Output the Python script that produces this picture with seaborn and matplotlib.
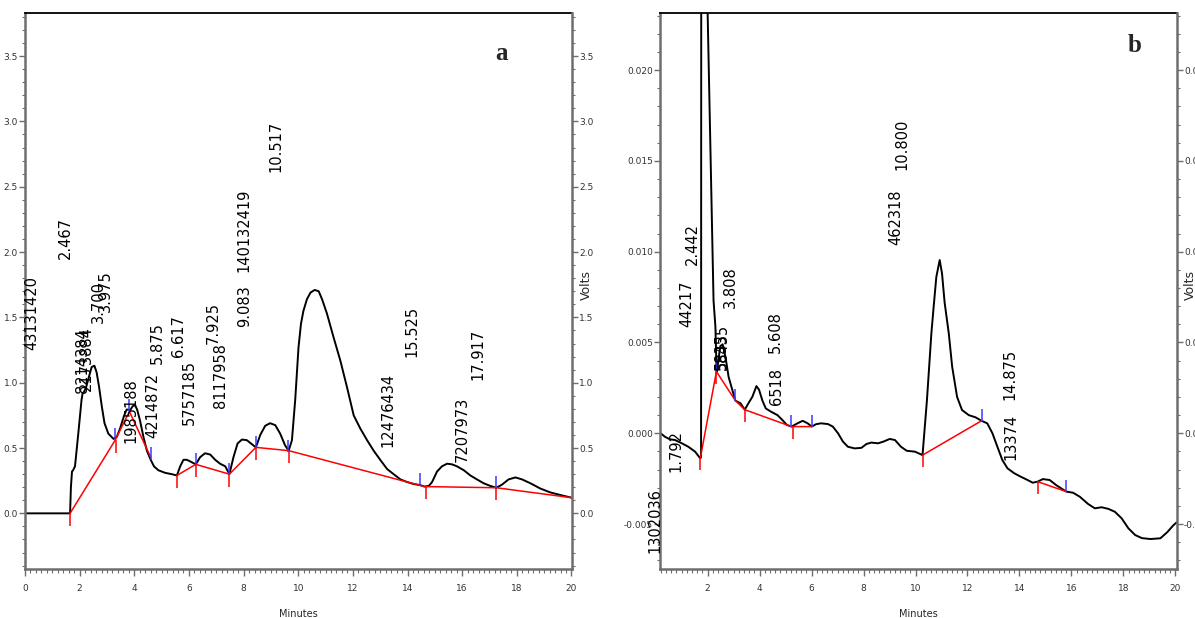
import matplotlib
matplotlib.use("Agg")
import matplotlib.pyplot as plt
import seaborn as sns
import pandas as pd
from matplotlib import font_manager
from matplotlib.ticker import MultipleLocator, FormatStrFormatter

# --- chromatogram a (Volts vs Minutes) ---
time_a = [0.0, 0.5, 1.0, 1.5, 1.65, 1.68, 1.72, 1.76, 1.83, 1.95,
          2.07, 2.11, 2.16, 2.23, 2.32, 2.44, 2.54, 2.62, 2.71, 2.81,
          2.91, 3.05, 3.24, 3.36, 3.48, 3.63, 3.72, 3.85, 3.94, 4.03,
          4.11, 4.21, 4.33, 4.46, 4.60, 4.72, 4.88, 5.13, 5.37, 5.56,
          5.68, 5.80, 5.92, 6.07, 6.25, 6.41, 6.59, 6.78, 6.96, 7.14,
          7.33, 7.48, 7.63, 7.78, 7.94, 8.12, 8.30, 8.45, 8.61, 8.79,
          8.97, 9.16, 9.34, 9.52, 9.65, 9.77, 9.89, 10.01, 10.10, 10.19,
          10.32, 10.45, 10.60, 10.75, 10.87, 11.05, 11.29, 11.54, 11.78, 12.03,
          12.27, 12.52, 12.76, 13.00, 13.25, 13.49, 13.74, 13.98, 14.22, 14.47,
          14.62, 14.78, 14.90, 15.08, 15.26, 15.45, 15.63, 15.81, 16.06, 16.30,
          16.54, 16.79, 17.03, 17.25, 17.46, 17.70, 17.95, 18.19, 18.50, 18.86,
          19.23, 19.60, 20.0]
volts_a = [0.0, 0.0, 0.0, 0.0, 0.0, 0.20, 0.32, 0.33, 0.36, 0.61,
           0.87, 0.92, 0.93, 0.96, 1.03, 1.12, 1.13, 1.08, 0.97, 0.82,
           0.69, 0.61, 0.57, 0.585, 0.65, 0.75, 0.795, 0.79, 0.82, 0.83,
           0.79, 0.71, 0.59, 0.48, 0.41, 0.36, 0.33, 0.31, 0.30, 0.29,
           0.36, 0.41, 0.41, 0.395, 0.375, 0.43, 0.46, 0.45, 0.41, 0.38,
           0.36, 0.30, 0.43, 0.535, 0.565, 0.56, 0.53, 0.505, 0.60, 0.67,
           0.69, 0.675, 0.61, 0.52, 0.48, 0.56, 0.87, 1.27, 1.45, 1.55,
           1.64, 1.69, 1.71, 1.70, 1.64, 1.53, 1.35, 1.17, 0.97, 0.75,
           0.65, 0.56, 0.48, 0.41, 0.34, 0.30, 0.26, 0.24, 0.225, 0.216,
           0.205, 0.21, 0.24, 0.32, 0.36, 0.38, 0.375, 0.36, 0.33, 0.29,
           0.26, 0.23, 0.21, 0.196, 0.22, 0.26, 0.275, 0.26, 0.23, 0.19,
           0.16, 0.14, 0.12]

# baseline (red) polylines, segment id per point
base_seg_a = [1, 1, 1, 1, 2, 2, 2, 2, 2, 2, 2, 2]
base_t_a = [1.65, 3.30, 3.82, 4.60, 5.56, 6.25, 7.48, 8.45, 9.65, 14.62, 17.25, 20.0]
base_v_a = [0.0, 0.56, 0.78, 0.43, 0.29, 0.375, 0.30, 0.505, 0.48, 0.205, 0.196, 0.12]
blue_t_a = [3.30, 3.80, 4.60, 6.25, 7.45, 8.45, 9.62, 14.45, 17.25]
blue_v_a = [0.56, 0.78, 0.41, 0.37, 0.29, 0.50, 0.47, 0.216, 0.19]
red_t_a = [1.65, 3.33, 5.56, 6.25, 7.48, 8.45, 9.65, 14.68, 17.25]
red_v_a = [0.0, 0.56, 0.29, 0.375, 0.30, 0.505, 0.48, 0.204, 0.196]

labels_a = ["43131420", "2.467", "8214384", "2173884", "3.700", "3.975",
            "1985188", "4214872", "5.875", "6.617", "5757185", "7.925",
            "8117958", "9.083", "140132419", "10.517", "12476434", "15.525",
            "7207973", "17.917"]
label_t_a = [0.26, 1.47, 2.09, 2.23, 2.67, 2.93, 3.88, 4.69, 4.84, 5.60,
             6.01, 6.89, 7.14, 8.02, 8.02, 9.19, 13.30, 14.18, 16.01, 16.59]
label_v_a = [1.25, 1.95, 0.92, 0.94, 1.46, 1.54, 0.54, 0.58, 1.14, 1.20,
             0.68, 1.30, 0.81, 1.43, 1.85, 2.61, 0.51, 1.20, 0.39, 1.02]

# --- chromatogram b ---
time_b = [0.17, 0.36, 0.55, 0.75, 1.01, 1.26, 1.52, 1.72, 1.75, 1.76,
          2.23, 2.30, 2.34, 2.36, 2.49, 2.58, 2.69, 2.81, 2.95, 3.07,
          3.27, 3.43, 3.59, 3.72, 3.88, 3.98, 4.11, 4.24, 4.43, 4.69,
          4.88, 5.05, 5.23, 5.46, 5.66, 5.85, 6.01, 6.17, 6.36, 6.63,
          6.82, 7.02, 7.21, 7.40, 7.66, 7.92, 8.11, 8.30, 8.56, 8.76,
          9.01, 9.21, 9.44, 9.66, 9.98, 10.27, 10.44, 10.61, 10.70, 10.80,
          10.93, 11.02, 11.12, 11.28, 11.41, 11.60, 11.79, 12.05, 12.31, 12.54,
          12.76, 12.96, 13.15, 13.34, 13.54, 13.80, 14.05, 14.31, 14.51, 14.70,
          14.90, 15.16, 15.41, 15.80, 16.06, 16.32, 16.64, 16.90, 17.16, 17.42,
          17.67, 17.93, 18.19, 18.45, 18.71, 19.04, 19.42, 19.68, 19.93, 20.05]
volts_b = [0.00003, -0.00019, -0.00033, -0.00037, -0.00055, -0.00074, -0.00101, -0.00138, -0.0013, 0.0400,
           0.0073, 0.0059, 0.0039, 0.0034, 0.0048, 0.0049, 0.0042, 0.0031, 0.0024, 0.0018,
           0.00165, 0.0013, 0.0017, 0.0020, 0.0026, 0.0024, 0.0018, 0.00137, 0.0012, 0.0010,
           0.00073, 0.00046, 0.00037, 0.00055, 0.00069, 0.00055, 0.00037, 0.0005, 0.00055, 0.00051,
           0.00037, 0.0, -0.00046, -0.00074, -0.00083, -0.0008, -0.00059, -0.00051, -0.00055, -0.00046,
           -0.00031, -0.00037, -0.00074, -0.00096, -0.00101, -0.0012, 0.00183, 0.0055, 0.0070, 0.0086,
           0.00954, 0.0088, 0.0072, 0.0055, 0.00367, 0.0020, 0.00128, 0.0010, 0.00088, 0.00069,
           0.00055, 0.0, -0.00074, -0.00147, -0.00193, -0.0022, -0.00239, -0.00257, -0.00272, -0.00266,
           -0.00252, -0.00257, -0.00285, -0.00321, -0.00327, -0.00349, -0.00389, -0.00413, -0.00407, -0.00416,
           -0.00432, -0.00468, -0.00523, -0.0056, -0.00577, -0.00582, -0.00578, -0.00545, -0.00505, -0.0049]

base_seg_b = [1, 1, 1, 1, 1, 1, 2, 2, 3, 3]
base_t_b = [1.72, 2.34, 3.07, 3.43, 5.23, 6.01, 10.27, 12.54, 14.70, 15.80]
base_v_b = [-0.00138, 0.0034, 0.0018, 0.0013, 0.00037, 0.00037, -0.0012, 0.00069, -0.00266, -0.00321]
blue_t_b = [2.34, 3.07, 5.20, 6.01, 12.54, 15.80]
blue_v_b = [0.0034, 0.0018, 0.00037, 0.00037, 0.00069, -0.00321]
red_t_b = [1.72, 2.34, 3.43, 5.27, 10.27, 14.70]
red_v_b = [-0.00138, 0.0034, 0.0013, 0.00037, -0.0012, -0.00266]

labels_b = ["1302036", "1.792", "44217", "2.442", "3.808", "58435", "5835",
            "5.608", "6518", "462318", "10.800", "14.875", "13374"]
label_t_b = [-0.03, 0.79, 1.21, 1.41, 2.88, 2.57, 2.52, 4.62, 4.66, 9.24, 9.47, 13.62, 13.66]
label_v_b = [-0.00659, -0.00213, 0.00587, 0.00928, 0.0069, 0.0035, 0.0035,
             0.00443, 0.00156, 0.01038, 0.0145, 0.00183, -0.00147]

sns.set_style("white")
installed = {f.name for f in font_manager.fontManager.ttflist}
narrow = "Liberation Sans Narrow" if "Liberation Sans Narrow" in installed else "DejaVu Sans"
tick_size = 8 if narrow != "DejaVu Sans" else 6.5
plt.rcParams['font.family'] = ['DejaVu Sans']

fig = plt.figure(figsize=(11.95, 6.18), dpi=100)
ax_a = fig.add_axes([25 / 1195, 49 / 618, 547 / 1195, 556 / 618])
ax_b = fig.add_axes([660 / 1195, 49 / 618, 517 / 1195, 556 / 618])

GRAY = "#6e6e6e"


def draw_panel(ax, t, v, bseg, bt, bv, blt, blv, rdt, rdv, labs, lt, lv,
               xlim, ylim, ymaj, ymin, yfmt, tick_len, letter, letter_xy):
    sns.lineplot(x=t, y=v, ax=ax, color="black", lw=1.4, sort=False, estimator=None)
    base = pd.DataFrame({"seg": bseg, "t": bt, "v": bv})
    sns.lineplot(data=base, x="t", y="v", units="seg", estimator=None, sort=False,
                 color="red", lw=1.1, ax=ax)
    ax.vlines(blt, blv, [y + tick_len for y in blv], color="#3a3aff", lw=1.1)
    ax.vlines(rdt, [y - tick_len for y in rdv], rdv, color="red", lw=1.1)
    for s, x, y in zip(labs, lt, lv):
        ax.text(x, y, s, rotation=90, ha="center", va="bottom", fontsize=10.5,
                color="black", clip_on=False)
    ax.set_xlim(*xlim)
    ax.set_ylim(*ylim)
    ax.xaxis.set_major_locator(MultipleLocator(2))
    ax.xaxis.set_minor_locator(MultipleLocator(0.2))
    ax.yaxis.set_major_locator(MultipleLocator(ymaj))
    ax.yaxis.set_minor_locator(MultipleLocator(ymin))
    ax.yaxis.set_major_formatter(FormatStrFormatter(yfmt))
    ax.set_xlabel("Minutes", fontsize=tick_size + 0.5, family=narrow, labelpad=11)
    ax.set_ylabel("")
    ax.tick_params(axis="both", which="both", direction="out", colors="#333333",
                   labelsize=tick_size, labelfontfamily=narrow)
    ax.tick_params(axis="x", which="major", bottom=True, length=5, width=1, pad=6, color=GRAY)
    ax.tick_params(axis="x", which="minor", bottom=True, length=3, width=0.8, color=GRAY)
    ax.tick_params(axis="y", which="major", left=True, length=4, width=1, pad=1, color=GRAY)
    ax.tick_params(axis="y", which="minor", left=True, length=2.5, width=0.8, color=GRAY)
    for side in ["left", "bottom"]:
        ax.spines[side].set_color(GRAY)
        ax.spines[side].set_linewidth(1.8)
    ax.spines["top"].set_color("black")
    ax.spines["top"].set_linewidth(1.3)
    ax.spines["right"].set_visible(False)

    twin = ax.twinx()
    twin.set_ylim(*ylim)
    twin.yaxis.set_major_locator(MultipleLocator(ymaj))
    twin.yaxis.set_minor_locator(MultipleLocator(ymin))
    twin.yaxis.set_major_formatter(FormatStrFormatter(yfmt))
    twin.tick_params(axis="y", which="both", direction="out", colors="#333333",
                     labelsize=tick_size, labelfontfamily=narrow, pad=1)
    twin.tick_params(axis="y", which="major", right=True, length=4, width=1, color=GRAY)
    twin.tick_params(axis="y", which="minor", right=True, length=2.5, width=0.8, color=GRAY)
    for side in ["left", "top", "bottom"]:
        twin.spines[side].set_visible(False)
    twin.spines["right"].set_color(GRAY)
    twin.spines["right"].set_linewidth(1.8)
    ax.text(1.026, 0.51, "Volts", rotation=90, ha="center", va="center",
            fontsize=9, transform=ax.transAxes, clip_on=False)
    ax.text(letter_xy[0], letter_xy[1], letter, transform=ax.transAxes,
            ha="center", va="center", fontsize=18, fontweight="bold",
            family=["Liberation Serif", "DejaVu Serif"])


draw_panel(ax_a, time_a, volts_a, base_seg_a, base_t_a, base_v_a,
           blue_t_a, blue_v_a, red_t_a, red_v_a, labels_a, label_t_a, label_v_a,
           (0, 20.02), (-0.426, 3.83), 0.5, 0.1, "%.1f", 0.095,
           "a", ((501 - 25) / 547, (569 - 53) / 556))
draw_panel(ax_b, time_b, volts_b, base_seg_b, base_t_b, base_v_b,
           blue_t_b, blue_v_b, red_t_b, red_v_b, labels_b, label_t_b, label_v_b,
           (0.17, 20.06), (-0.00747, 0.02314), 0.005, 0.001, "%.3f", 0.00066,
           "b", ((1135 - 660) / 517, (569 - 45) / 556))

fig.savefig("out.png", dpi=100)
